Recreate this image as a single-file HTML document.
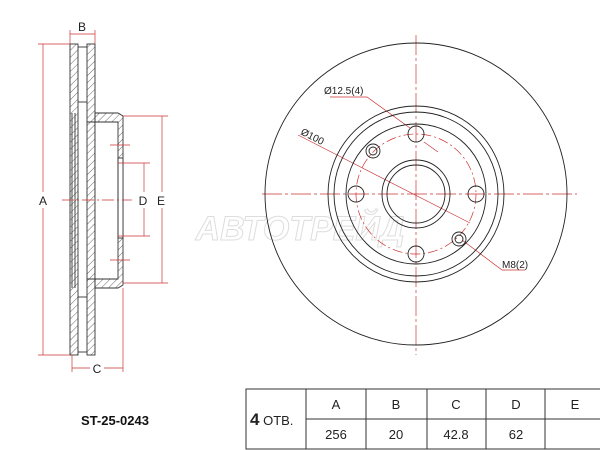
<!DOCTYPE html>
<html><head><style>body{margin:0;background:#fff}svg{display:block}</style></head><body>
<svg width="600" height="450" viewBox="0 0 600 450" xmlns="http://www.w3.org/2000/svg" font-family="Liberation Sans, sans-serif">
<defs>
<pattern id="h" width="5" height="5" patternUnits="userSpaceOnUse" patternTransform="rotate(45)"><line x1="0" y1="0" x2="0" y2="5" stroke="#444" stroke-width="0.8"/></pattern>
</defs>
<text x="300" y="240" font-size="34" font-weight="bold" font-style="italic" fill="none" stroke="#ddd" stroke-width="1" text-anchor="middle">АВТОТРЕЙД</text>
<!-- side view -->
<g stroke="#333" stroke-width="0.9">
<rect x="70" y="44" width="8" height="311" fill="url(#h)"/>
<rect x="87" y="44" width="8" height="311" fill="url(#h)"/>
<line x1="78" y1="47" x2="87" y2="47"/><line x1="78" y1="102" x2="87" y2="102"/><line x1="78" y1="297" x2="87" y2="297"/><line x1="78" y1="352" x2="87" y2="352"/>
<line x1="72" y1="113" x2="72" y2="288" fill="none"/><line x1="75" y1="113" x2="75" y2="288"/>
<path d="M95 113 L118 113 L123 116 L123 285 L118 288 L95 288 Z" fill="url(#h)"/>
<rect x="95" y="122" width="23" height="157" fill="#fff"/>
<line x1="87" y1="122" x2="118" y2="122"/><line x1="87" y1="279" x2="118" y2="279"/>
<rect x="118" y="158" width="5" height="80" fill="#fff"/>
<line x1="118" y1="158" x2="118" y2="238"/>
</g>
<g stroke="#c33" stroke-width="0.7" fill="#c33">
<line x1="43" y1="44" x2="43" y2="355"/><line x1="38" y1="44" x2="70" y2="44"/><line x1="38" y1="355" x2="70" y2="355"/>
<line x1="70" y1="34" x2="95" y2="34"/><line x1="70" y1="30" x2="70" y2="44"/><line x1="95" y1="30" x2="95" y2="44"/>
<line x1="72" y1="368" x2="123" y2="368"/><line x1="72" y1="355" x2="72" y2="372"/><line x1="123" y1="288" x2="123" y2="372"/>
<line x1="144" y1="163" x2="144" y2="236"/><line x1="118" y1="163" x2="150" y2="163"/><line x1="118" y1="236" x2="150" y2="236"/>
<line x1="162" y1="116" x2="162" y2="283"/><line x1="123" y1="116" x2="168" y2="116"/><line x1="123" y1="283" x2="168" y2="283"/>
<line x1="62" y1="200" x2="132" y2="200" stroke-dasharray="12,3,2,3"/>
<line x1="110" y1="145" x2="130" y2="145"/><line x1="110" y1="260" x2="130" y2="260"/>
</g>
<g font-size="12" fill="#222" text-anchor="middle">
<rect x="36" y="192" width="14" height="16" fill="#fff"/><text x="43" y="205">A</text>
<text x="82" y="31">B</text>
<rect x="90" y="361" width="14" height="14" fill="#fff"/><text x="97" y="373">C</text>
<rect x="137" y="192" width="32" height="16" fill="#fff"/><text x="143" y="205">D</text><text x="161" y="205">E</text>
</g>
<!-- front view -->
<g stroke="#c33" stroke-width="0.7" fill="none">
<line x1="416" y1="35" x2="416" y2="355" stroke-dasharray="20,3,3,3"/>
<line x1="262" y1="194" x2="577" y2="194" stroke-dasharray="20,3,3,3"/>
<circle cx="416" cy="194" r="60" stroke-dasharray="10,3,2,3"/>
<polyline points="330,97 367,97 410,128"/>
<line x1="298" y1="135" x2="470" y2="223"/>
<polyline points="462,240 502,270 525,270"/>
<line x1="424" y1="142" x2="438" y2="152"/>
</g>
<g stroke="#222" stroke-width="0.9" fill="none">
<circle cx="416" cy="194" r="151"/>
<circle cx="416" cy="194" r="88"/>
<circle cx="416" cy="194" r="82"/>
<circle cx="416" cy="194" r="70"/>
<circle cx="416" cy="194" r="34"/>
<circle cx="416" cy="194" r="29"/>
<circle cx="416" cy="134" r="8"/><circle cx="416" cy="254" r="8"/>
<circle cx="356" cy="194" r="8"/><circle cx="476" cy="194" r="8"/>
<circle cx="373" cy="151" r="7"/><circle cx="373" cy="151" r="4"/>
<circle cx="459" cy="239" r="7"/><circle cx="459" cy="239" r="4"/>
</g>
<g font-size="10" fill="#222">
<text x="324" y="94">Ø12.5(4)</text>
<text x="502" y="268">M8(2)</text>
<text x="300" y="134" transform="rotate(27 300 134)">Ø100</text>
</g>
<!-- table -->
<text x="115" y="425" font-size="13" font-weight="bold" text-anchor="middle" fill="#111">ST-25-0243</text>
<g stroke="#333" stroke-width="1" fill="none">
<rect x="246" y="389" width="360" height="60"/>
<line x1="306" y1="419" x2="600" y2="419"/>
<line x1="306" y1="389" x2="306" y2="449"/><line x1="366" y1="389" x2="366" y2="449"/><line x1="427" y1="389" x2="427" y2="449"/><line x1="486" y1="389" x2="486" y2="449"/><line x1="545" y1="389" x2="545" y2="449"/>
</g>
<g font-size="13" fill="#222" text-anchor="middle">
<text x="250" y="425" text-anchor="start"><tspan font-size="17" font-weight="bold">4</tspan> ОТВ.</text>
<text x="336" y="409">A</text><text x="396" y="409">B</text><text x="456" y="409">C</text><text x="516" y="409">D</text><text x="575" y="409">E</text>
<text x="336" y="439">256</text><text x="396" y="439">20</text><text x="456" y="439">42.8</text><text x="516" y="439">62</text>
</g>
</svg>
</body></html>
